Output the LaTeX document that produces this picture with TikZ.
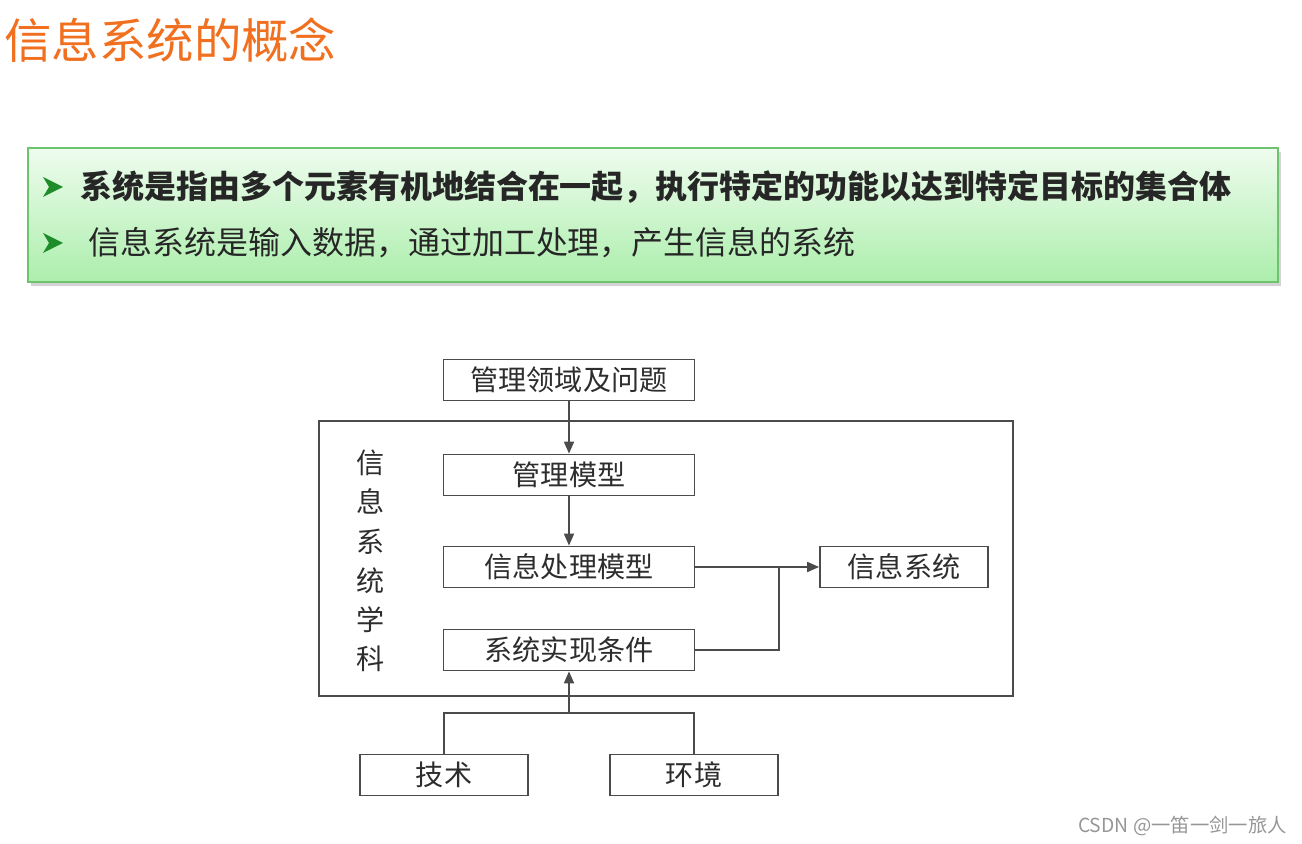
\documentclass[tikz,border=0pt]{standalone}
\usepackage{fontspec}
\setmainfont{Noto Sans CJK SC}
\usetikzlibrary{arrows.meta,positioning,shadows}
\definecolor{ttl}{RGB}{240,112,32}
\definecolor{ink}{RGB}{45,45,45}
\definecolor{line}{RGB}{75,75,75}
\definecolor{grnA}{RGB}{238,252,238}
\definecolor{grnB}{RGB}{172,238,172}
\definecolor{grnE}{RGB}{110,195,110}
\definecolor{bul}{RGB}{30,140,40}
\definecolor{wm}{RGB}{150,150,150}

\begin{document}
\begin{tikzpicture}[
  x=0.02cm, y=-0.02cm,
  every node/.style={inner sep=0pt, text=ink},
  >={Triangle[length=2.4mm,width=2.0mm]},
  box/.style={draw=line, line width=1pt, minimum width=5.02cm, minimum height=0.82cm,
              font=\fontsize{16}{18}\selectfont},
  sbox/.style={box, minimum width=3.36cm},
  frame/.style={draw=line, line width=1pt, minimum width=13.88cm, minimum height=5.5cm},
  flow/.style={draw=line, line width=1pt, ->},
  wire/.style={draw=line, line width=1pt},
  panel/.style={draw=grnE, line width=0.8pt, top color=grnA, bottom color=grnB,
                minimum width=25cm, minimum height=2.68cm,
                drop shadow={shadow xshift=0.6mm, shadow yshift=-0.8mm, opacity=0.35}},
  bullet/.style={anchor=west, font=\fontsize{18.2}{20}\selectfont, text=black!85},
]
\useasboundingbox (0,0) rectangle (1302,844);

% ---------------- title ----------------
\node[anchor=west, text=ttl, font=\fontsize{27}{30}\selectfont] (title) at (4,40) {信息系统的概念};

% ---------------- definitions panel ----------------
\node[panel] (panel) at (653,215) {};
\foreach \y in {187, 243} {
  \fill[bul] (43,\y-10) -- (63,\y) -- (43,\y+10) -- (49,\y) -- cycle;
}
\node[bullet, font=\fontsize{18.2}{20}\selectfont\bfseries] (def1) at (80,187)
  {系统是指由多个元素有机地结合在一起，执行特定的功能以达到特定目标的集合体};
\node[bullet] (def2) at (88,243) {信息系统是输入数据，通过加工处理，产生信息的系统};

% ---------------- diagram ----------------
\node[frame] (frame) at (666,558.5) {};
\node[align=center, font=\fontsize{16}{22.3}\selectfont] (subj) at (371,561)
  {信\\息\\系\\统\\学\\科};

\node[box] (prob) at (569,380) {管理领域及问题};
\node[box] (mgmt) at (569,475) {管理模型};
\node[box] (proc) at (569,567) {信息处理模型};
\node[box] (cond) at (569,650) {系统实现条件};
\node[sbox] (isys) at (904,567) {信息系统};
\node[sbox] (tech) at (444,775) {技术};
\node[sbox] (env)  at (694,775) {环境};

\coordinate (join) at (779,567);
\coordinate (fork) at (569,713);

\draw[flow] (prob) -- (mgmt);
\draw[flow] (mgmt) -- (proc);
\draw[flow] (proc.east) -- (isys.west);
\draw[wire] (cond.east) -| (join);
\draw[wire] (tech.north) |- (fork) -| (env.north);
\draw[flow] (fork) -- (cond.south);

% watermark
\node[anchor=east, text=wm, font=\fontsize{11}{12}\selectfont] (mark) at (1287,826) {CSDN @一笛一剑一旅人};

\end{tikzpicture}
\end{document}
